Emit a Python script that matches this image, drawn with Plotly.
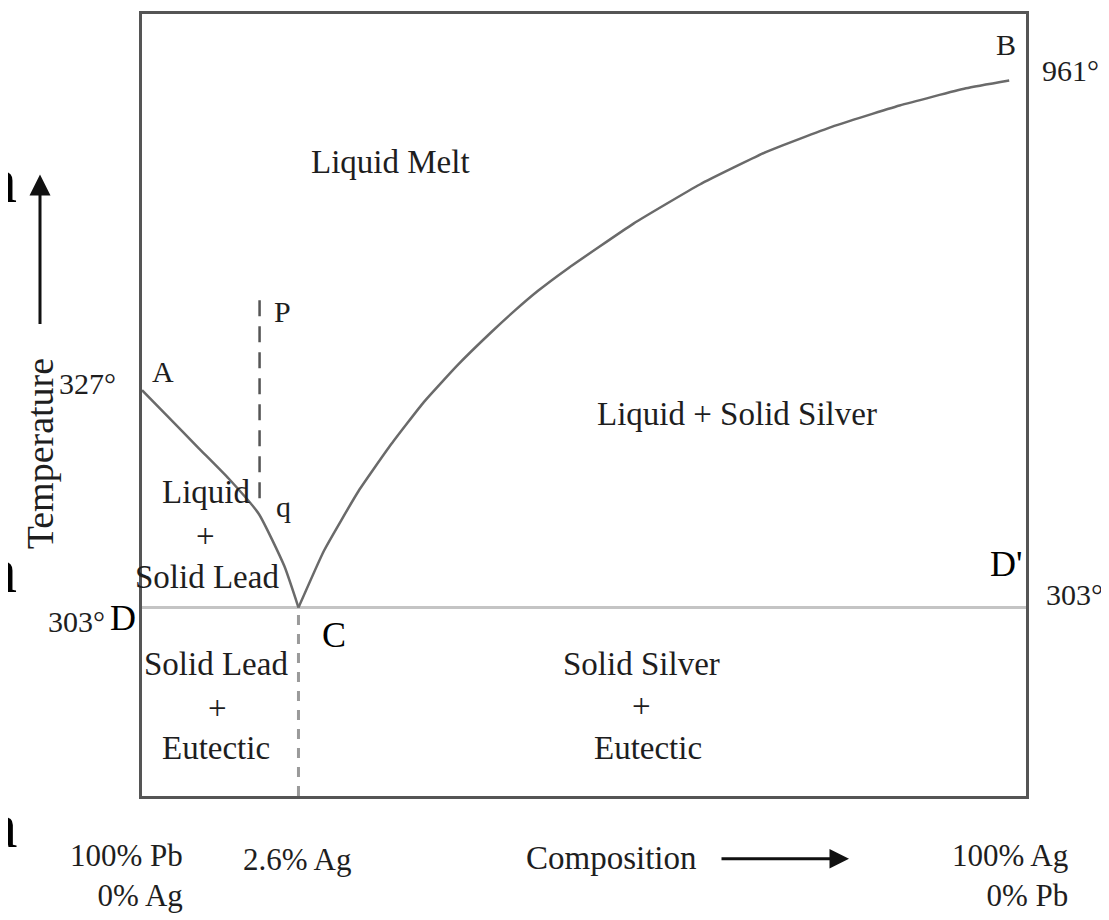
import plotly.graph_objects as go

# ---------------- data (schematic diagram units: composition axis 0-100, temperature axis 0-100) -------------
liquidus_lead_x = [0, 2.6, 6.4, 9.8, 13.2, 16.1, 17.7]
liquidus_lead_y = [51.9, 48.9, 44.5, 40.6, 36.1, 29.4, 24.1]

liquidus_silver_x = [17.7, 20.6, 24.5, 28.2, 31.9, 35.7, 39.5, 42.1, 44.8, 48.1,
                     55.6, 63.1, 70.7, 78.1, 85.7, 93.2, 98.1]
liquidus_silver_y = [24.1, 31.4, 39.0, 45.0, 50.4, 55.1, 59.3, 62.0, 64.6, 67.4,
                     73.2, 78.2, 82.4, 85.6, 88.3, 90.5, 91.5]

eutectic_x = [0, 100]
eutectic_y = [24.1, 24.1]

cooling_p_x = [13.3, 13.3]
cooling_p_y = [63.4, 37.0]

eutectic_comp_x = [17.7, 17.7]
eutectic_comp_y = [0, 24.1]

temp_labels = ["327°", "303°", "961°", "303°"]
comp_labels = ["100% Pb<br>0% Ag", "2.6% Ag", "100% Ag<br>0% Pb"]

# ---------------- layout helpers (screen pixel -> paper) ----------------
BODY = 8                      # default page margin around the figure
W, H = 1101, 912
PL, PR, PT, PB = 142, 1026, 11, 796   # plot area on screen
L, R, T, B = PL - BODY, W + BODY - PR, PT - BODY, H + BODY - PB
PW, PH = PR - PL, PB - PT


def px(x):
    return (x - PL) / PW


def py(y):
    return (PB - y) / PH


FONT = "Liberation Serif, Times New Roman, serif"
TXT = "#1e1e1e"

fig = go.Figure()

fig.add_trace(go.Scatter(x=eutectic_x, y=eutectic_y, mode="lines",
                         line=dict(color="#c4c4c4", width=3), hoverinfo="skip"))
fig.add_trace(go.Scatter(x=liquidus_lead_x, y=liquidus_lead_y, mode="lines",
                         line=dict(color="#6a6a6a", width=2.5, shape="spline", smoothing=0.5),
                         hoverinfo="skip"))
fig.add_trace(go.Scatter(x=liquidus_silver_x, y=liquidus_silver_y, mode="lines",
                         line=dict(color="#6a6a6a", width=2.5, shape="spline", smoothing=0.4),
                         hoverinfo="skip"))
fig.add_trace(go.Scatter(x=cooling_p_x, y=cooling_p_y, mode="lines",
                         line=dict(color="#555555", width=2.5, dash="16px,10px"), hoverinfo="skip"))
fig.add_trace(go.Scatter(x=eutectic_comp_x, y=eutectic_comp_y, mode="lines",
                         line=dict(color="#9a9a9a", width=3, dash="10px,9px"), hoverinfo="skip"))

ann = []


def label(text, x, y, size=33, color=TXT, xanchor="center", align="center"):
    ann.append(dict(text=text, x=px(x), y=py(y), xref="paper", yref="paper",
                    showarrow=False, xanchor=xanchor, yanchor="middle", align=align,
                    font=dict(family=FONT, size=size, color=color)))


# region labels
label("Liquid Melt", 390, 160)
label("Liquid + Solid Silver", 737, 413)
label("Liquid", 206, 491)
label("+", 205, 535)
label("Solid Lead", 207, 576)
label("Solid Lead", 216, 663)
label("+", 217, 708)
label("Eutectic", 216, 748)
label("Solid Silver", 641, 663)
label("+", 641, 706)
label("Eutectic", 648, 748)

# point labels
label("A", 163, 370, size=30)
label("P", 282, 310, size=30)
label("q", 283, 505, size=30)
label("B", 1006, 42, size=30)
label("D", 123, 617, size=36, color="#000")
label("D'", 1006, 563, size=36, color="#000")
label("C", 334, 634, size=36, color="#000")

# temperature labels
label(temp_labels[0], 87, 382, size=30)
label(temp_labels[1], 76, 621, size=30)
label(temp_labels[2], 1070, 68, size=30)
label(temp_labels[3], 1074, 594, size=30)

# composition labels
label(comp_labels[0], 185, 876, size=31, xanchor="right", align="right")
label(comp_labels[1], 297, 860, size=31)
label(comp_labels[2], 1070, 876, size=31, xanchor="right", align="right")
label("Composition", 611, 858, size=33)

# axis title (rotated)
ann.append(dict(text="Temperature", x=px(40), y=py(453), xref="paper", yref="paper",
                showarrow=False, textangle=-90, xanchor="center", yanchor="middle",
                font=dict(family=FONT, size=38, color=TXT)))

# cut-off fragments of neighbouring text at the left edge
for t, yy in [("n", 178), ("n", 570), ("a", 826)]:
    ann.append(dict(text=t, x=px(19), y=py(yy), xref="paper", yref="paper",
                    showarrow=False, xanchor="right", yanchor="middle",
                    font=dict(family=FONT, size=64, color="#000")))

# arrows
ann.append(dict(x=px(40), y=py(172), xref="paper", yref="paper", ax=0, ay=151,
                axref="pixel", ayref="pixel", showarrow=True, arrowhead=2, arrowsize=1.4,
                arrowwidth=3, arrowcolor="#111", text=""))
ann.append(dict(x=px(849), y=py(859), xref="paper", yref="paper", ax=-129, ay=0,
                axref="pixel", ayref="pixel", showarrow=True, arrowhead=2, arrowsize=1.3,
                arrowwidth=3, arrowcolor="#111", text=""))

axis = dict(range=[0, 100], showgrid=False, zeroline=False, showticklabels=False,
            ticks="", showline=True, mirror=True, linecolor="#555555", linewidth=3, fixedrange=True)

fig.update_layout(
    width=W, height=H,
    margin=dict(l=L, r=R, t=T, b=B, pad=0),
    paper_bgcolor="white", plot_bgcolor="white",
    showlegend=False,
    xaxis=axis, yaxis=axis,
    annotations=ann,
)

fig.write_html("out.html")
